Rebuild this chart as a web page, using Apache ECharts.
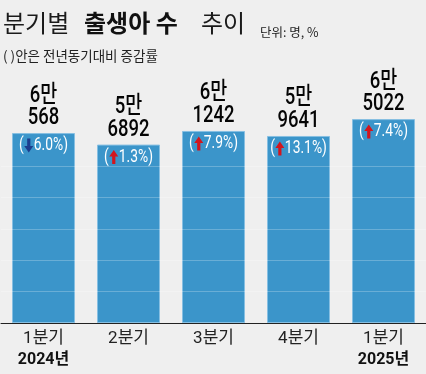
<!DOCTYPE html>
<html><head><meta charset="utf-8">
<script src="https://cdn.jsdelivr.net/npm/echarts@6/dist/echarts.min.js"></script>
<style>html,body{margin:0;padding:0;background:#efefef}#c{width:426px;height:374px}</style>
</head><body><div id="c"></div>
<script>
const quarters = ['1분기', '2분기', '3분기', '4분기', '1분기'];
const years = ['2024년', '', '', '', '2025년'];
const births = [60568, 56892, 61242, 59641, 65022];
const changePct = [-6.0, 1.3, 7.9, 13.1, 7.4];
const gridValues = [10000, 20000, 30000, 40000, 50000];

const FONT = 'Roboto, "Noto Sans CJK KR", sans-serif';
const KR = '"Noto Sans CJK KR", "Noto Sans", sans-serif';
const SX = 0.77;

const mctx = document.createElement('canvas').getContext('2d');
function textW(t, size) { mctx.font = size + 'px ' + FONT; return mctx.measureText(t).width; }

function renderLabels(params, api) {
  const i = params.dataIndex;
  const v = api.value(1);
  const pt = api.coord([api.value(0), v]);
  const cx = pt[0], top = pt[1];
  const children = [];
  const l1 = Math.floor(v / 10000) + '만';
  const l2 = String(v % 10000);
  children.push({type: 'text', x: cx, y: top - 37.5, scaleX: SX,
    style: {text: l1, fontSize: 24, fontWeight: 500, fontFamily: FONT, fill: '#050505', align: 'center', verticalAlign: 'middle'}});
  children.push({type: 'text', x: cx, y: top - 15, scaleX: SX,
    style: {text: l2, fontSize: 24, fontWeight: 500, fontFamily: FONT, fill: '#050505', align: 'center', verticalAlign: 'middle'}});
  const c = changePct[i];
  const cy = top + 12.5;
  const fs = 18;
  const w1 = textW('(', fs) * SX;
  const numTxt = Math.abs(c).toFixed(1) + '%)';
  const w3 = textW(numTxt, fs) * SX;
  const aw = 9, gap = 0.5;
  const total = w1 + gap + aw + gap + w3;
  const x0 = cx - total / 2;
  children.push({type: 'text', x: x0, y: cy, scaleX: SX,
    style: {text: '(', fontSize: fs, fontFamily: FONT, fill: '#fff', align: 'left', verticalAlign: 'middle'}});
  children.push({type: 'text', x: x0 + w1 + gap + aw + gap, y: cy, scaleX: SX,
    style: {text: numTxt, fontSize: fs, fontFamily: FONT, fill: '#fff', align: 'left', verticalAlign: 'middle'}});
  const ax = x0 + w1 + gap + aw / 2;
  const h = 14, hh = 6.5, sw = 1.6;
  let pts;
  if (c >= 0) {
    const t = cy - h / 2;
    pts = [[ax, t], [ax + aw / 2, t + hh], [ax + sw, t + hh], [ax + sw, t + h], [ax - sw, t + h], [ax - sw, t + hh], [ax - aw / 2, t + hh]];
  } else {
    const b = cy + h / 2;
    pts = [[ax, b], [ax + aw / 2, b - hh], [ax + sw, b - hh], [ax + sw, b - h], [ax - sw, b - h], [ax - sw, b - hh], [ax - aw / 2, b - hh]];
  }
  children.push({type: 'polygon', shape: {points: pts}, style: {fill: c >= 0 ? '#d3151d' : '#1c3d8e'}});
  return {type: 'group', children: children};
}

const chart = echarts.init(document.getElementById('c'), null, {renderer: 'canvas'});
chart.setOption({
  backgroundColor: '#efefef',
  animation: false,
  grid: {left: 1, width: 432, top: 103.5, bottom: 51, containLabel: false},
  graphic: [
    {type: 'text', left: 3, top: 11, style: {text: '분기별', font: '24px ' + KR, fill: '#1a1a1a'}},
    {type: 'text', left: 84, top: 11, style: {text: '출생아 수', font: 'bold 24px ' + KR, fill: '#111'}},
    {type: 'text', left: 201, top: 11, style: {text: '추이', font: '24px ' + KR, fill: '#1a1a1a'}},
    {type: 'text', left: 260, top: 26, style: {text: '단위: 명, %', font: '12.5px ' + KR, fill: '#222'}},
    {type: 'text', left: 3, top: 49, style: {text: '( )안은 전년동기대비 증감률', font: '13.5px ' + KR, fill: '#222'}}
  ],
  xAxis: {
    type: 'category',
    data: quarters,
    axisLine: {lineStyle: {color: '#222', width: 1}},
    axisTick: {show: false},
    axisLabel: {
      margin: 5,
      interval: 0,
      formatter: function (v, i) {
        return years[i] ? '{q|' + v + '}\n{y|' + years[i] + '}' : '{q|' + v + '}';
      },
      rich: {
        q: {fontFamily: FONT, fontSize: 17, color: '#222', lineHeight: 21},
        y: {fontFamily: FONT, fontSize: 16, fontWeight: 'bold', color: '#111', lineHeight: 21}
      }
    }
  },
  yAxis: {
    type: 'value', min: 0, max: 70000, interval: 10000,
    show: false, splitLine: {show: false}
  },
  series: [
    {
      type: 'bar',
      data: births,
      barWidth: 63,
      itemStyle: {color: '#3b95ca', borderColor: '#86bfe2', borderWidth: 1},
      markLine: {
        silent: true,
        symbol: 'none',
        label: {show: false},
        lineStyle: {color: 'rgba(255,255,255,0.24)', width: 1, type: 'solid'},
        data: gridValues.map(function (v) { return {yAxis: v}; })
      },
      z: 2
    },
    {
      type: 'custom',
      coordinateSystem: 'cartesian2d',
      data: births.map(function (v, i) { return [i, v]; }),
      encode: {x: 0, y: 1},
      renderItem: renderLabels,
      silent: true,
      z: 5
    }
  ]
});
</script></body></html>
